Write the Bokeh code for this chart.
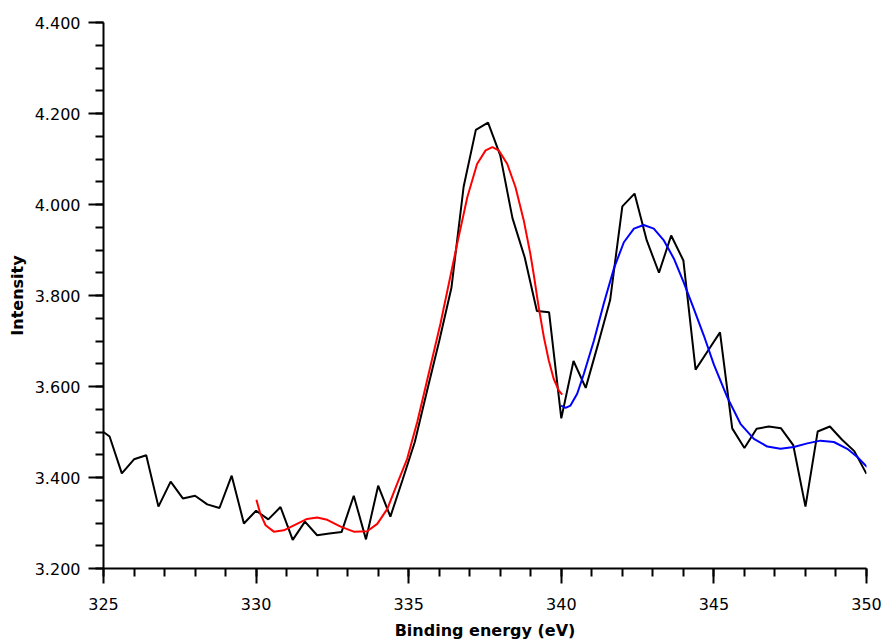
from bokeh.plotting import figure
from bokeh.models import FixedTicker, PrintfTickFormatter, Range1d
from bokeh.embed import file_html
from bokeh.resources import INLINE

# Measured spectrum (binding energy in eV, intensity)
energy = [324.8, 325.2, 325.6, 326.0, 326.4, 326.8, 327.2, 327.6, 328.0, 328.4,
          328.8, 329.2, 329.6, 330.0, 330.4, 330.8, 331.2, 331.6, 332.0, 332.4,
          332.8, 333.2, 333.6, 334.0, 334.4, 334.8, 335.2, 335.6, 336.0, 336.4,
          336.8, 337.2, 337.6, 338.0, 338.4, 338.8, 339.2, 339.6, 340.0, 340.4,
          340.8, 341.2, 341.6, 342.0, 342.4, 342.8, 343.2, 343.6, 344.0, 344.4,
          344.8, 345.2, 345.6, 346.0, 346.4, 346.8, 347.2, 347.6, 348.0, 348.4,
          348.8, 349.2, 349.6, 350.0]
intensity = [3.510, 3.490, 3.409, 3.440, 3.449, 3.336, 3.391, 3.354, 3.360, 3.341,
             3.333, 3.404, 3.299, 3.327, 3.308, 3.335, 3.263, 3.303, 3.273, 3.277,
             3.280, 3.360, 3.264, 3.382, 3.314, 3.395, 3.478, 3.590, 3.700, 3.817,
             4.039, 4.164, 4.180, 4.108, 3.970, 3.884, 3.766, 3.763, 3.530, 3.656,
             3.597, 3.692, 3.790, 3.996, 4.024, 3.921, 3.850, 3.932, 3.877, 3.637,
             3.678, 3.719, 3.508, 3.465, 3.507, 3.512, 3.508, 3.471, 3.336, 3.501,
             3.512, 3.483, 3.458, 3.408]

# Fit curve 1 (red)
fit1_energy = [330.01, 330.14, 330.31, 330.58, 330.91, 331.24, 331.67, 332.00, 332.33,
               332.77, 333.20, 333.64, 333.97, 334.30, 334.62, 334.95, 335.28, 335.50,
               336.04, 336.59, 336.92, 337.24, 337.52, 337.74, 337.95, 338.23, 338.50,
               338.77, 338.99, 339.10, 339.26, 339.43, 339.59, 339.75, 339.92, 340.03]
fit1_intensity = [3.351, 3.320, 3.295, 3.281, 3.284, 3.295, 3.309, 3.312, 3.307,
                  3.292, 3.281, 3.282, 3.298, 3.331, 3.386, 3.441, 3.522, 3.584,
                  3.738, 3.914, 4.016, 4.089, 4.119, 4.126, 4.119, 4.089, 4.038,
                  3.965, 3.890, 3.845, 3.774, 3.708, 3.657, 3.617, 3.591, 3.582]

# Fit curve 2 (blue)
fit2_energy = [339.99, 340.14, 340.30, 340.52, 340.74, 341.07, 341.39, 341.72, 342.05,
               342.38, 342.70, 343.03, 343.36, 343.69, 344.01, 344.34, 344.67, 345.00,
               345.44, 345.87, 346.31, 346.75, 347.18, 347.62, 348.06, 348.49, 348.93,
               349.37, 349.70, 350.02]
fit2_intensity = [3.558, 3.553, 3.558, 3.584, 3.628, 3.701, 3.782, 3.859, 3.917,
                  3.947, 3.955, 3.947, 3.921, 3.881, 3.829, 3.771, 3.712, 3.648,
                  3.576, 3.518, 3.485, 3.468, 3.463, 3.467, 3.475, 3.481, 3.478,
                  3.463, 3.445, 3.423]

x_major = [325, 330, 335, 340, 345, 350]
x_minor = list(range(325, 351))
y_major = [3.2, 3.4, 3.6, 3.8, 4.0, 4.2, 4.4]
y_minor = [round(3.2 + 0.05 * i, 2) for i in range(25)]

p = figure(width=884, height=643, output_backend="svg", toolbar_location=None,
           x_range=Range1d(325, 350), y_range=Range1d(3.2, 4.4),
           min_border_left=103, min_border_right=18, min_border_top=22,
           min_border_bottom=75)
p.outline_line_color = None
p.background_fill_color = "white"
p.border_fill_color = "white"
p.xgrid.visible = False
p.ygrid.visible = False

p.line(energy, intensity, line_color="black", line_width=2)
p.line(fit1_energy, fit1_intensity, line_color="#ff0000", line_width=2)
p.line(fit2_energy, fit2_intensity, line_color="#0000ff", line_width=2)

p.xaxis.ticker = FixedTicker(ticks=x_major, minor_ticks=x_minor)
p.yaxis.ticker = FixedTicker(ticks=y_major, minor_ticks=y_minor)
p.yaxis.formatter = PrintfTickFormatter(format="%.3f")

for ax in (p.xaxis, p.yaxis):
    ax.axis_line_width = 2
    ax.axis_line_color = "black"
    ax.major_tick_line_width = 2
    ax.minor_tick_line_width = 2
    ax.major_tick_line_color = "black"
    ax.minor_tick_line_color = "black"
    ax.major_tick_in = 0
    ax.minor_tick_in = 0
    ax.major_tick_out = 15
    ax.minor_tick_out = 8
    ax.major_label_text_font = "DejaVu Sans"
    ax.major_label_text_font_size = "16px"
    ax.major_label_text_color = "black"
    ax.axis_label_text_font = "DejaVu Sans"
    ax.axis_label_text_font_size = "16px"
    ax.axis_label_text_font_style = "bold"
    ax.axis_label_text_color = "black"

p.xaxis.axis_label = "Binding energy (eV)"
p.yaxis.axis_label = "Intensity"
p.xaxis.major_label_standoff = 14
p.xaxis.axis_label_standoff = 8
p.yaxis.major_label_standoff = 8
p.yaxis.axis_label_standoff = 5

open("out.html", "w").write(file_html(p, INLINE))
